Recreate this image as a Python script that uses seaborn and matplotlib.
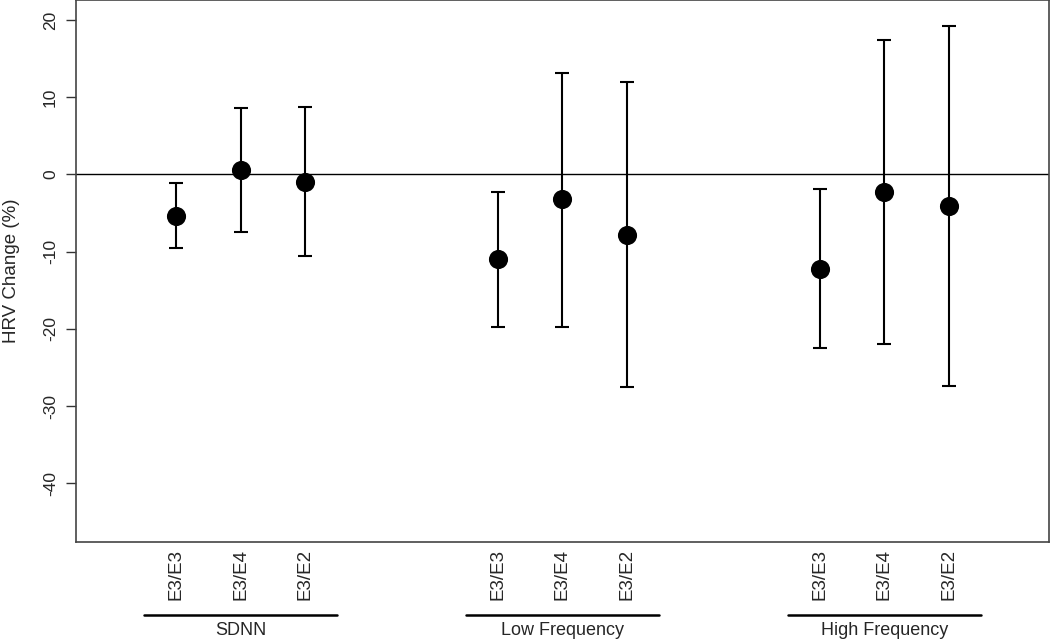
import numpy as np
import pandas as pd
import matplotlib
matplotlib.use("Agg")
import matplotlib.pyplot as plt
import matplotlib.transforms as mtransforms
import seaborn as sns

# data
groups = ["SDNN", "Low Frequency", "High Frequency"]
genotypes = ["E3/E3", "E3/E4", "E3/E2"]
estimate = [-5.4, 0.6, -1.0, -11.0, -3.2, -7.8, -12.2, -2.3, -4.1]
lower = [-9.5, -7.4, -10.6, -19.7, -19.7, -27.5, -22.5, -22.0, -27.4]
upper = [-1.1, 8.6, 8.7, -2.3, 13.2, 12.0, -1.9, 17.4, 19.2]
yticks = [-40, -30, -20, -10, 0, 10, 20]

sns.set_style("white")
plt.rcParams["font.family"] = ["Liberation Sans", "DejaVu Sans"]

# build table, 3 genotypes per group with a gap of 2 between groups
rows = []
k = 0
for g, grp in enumerate(groups):
    for i, gt in enumerate(genotypes):
        rows.append({"group": grp, "genotype": gt, "pos": g * 5 + i + 1,
                     "est": estimate[k], "lo": lower[k], "hi": upper[k]})
        k += 1
df = pd.DataFrame(rows)

fig = plt.figure(figsize=(10.5, 6.39), dpi=100)
ax = fig.add_axes([0.0724, 0.152, 0.9266, 0.848])

ax.axhline(0, color="black", lw=1, zorder=1)
ax.errorbar(df["pos"], df["est"],
            yerr=[df["est"] - df["lo"], df["hi"] - df["est"]],
            fmt="none", ecolor="black", elinewidth=1.5, capsize=4.7,
            capthick=1.5, zorder=2)
sns.scatterplot(data=df, x="pos", y="est", color="black", s=190,
                edgecolor="black", linewidth=0, ax=ax, zorder=3, legend=False)

ax.set_xlim(-0.56, 14.56)
ax.set_ylim(-47.6, 22.6)
ax.set_yticks(yticks)
ax.set_yticklabels([str(t) for t in yticks], rotation=90, va="center",
                   fontsize=12.5)
ax.set_xticks(df["pos"])
ax.set_xticklabels(df["genotype"], rotation=90, fontsize=13.5)
ax.tick_params(axis="x", length=0, pad=5)
ax.tick_params(axis="y", left=True, length=7, width=1, color="#333333", pad=6)
ax.set_xlabel("")
ax.set_ylabel("HRV Change (%)", fontsize=13.5)
ax.yaxis.set_label_coords(-0.058, 0.5)

for sp in ax.spines.values():
    sp.set_visible(True)
    sp.set_color("#444444")
    sp.set_linewidth(1.2)

# group underlines and names below the tick labels
trans = mtransforms.blended_transform_factory(ax.transData, ax.transAxes)
for g, grp in enumerate(groups):
    x0 = g * 5 + 0.5
    x1 = g * 5 + 3.5
    ax.plot([x0, x1], [-0.1353, -0.1353], color="black", lw=1.8,
            transform=trans, clip_on=False)
    ax.text((x0 + x1) / 2, -0.163, grp, transform=trans, ha="center",
            va="center", fontsize=13)

fig.savefig("out.png", dpi=100)
